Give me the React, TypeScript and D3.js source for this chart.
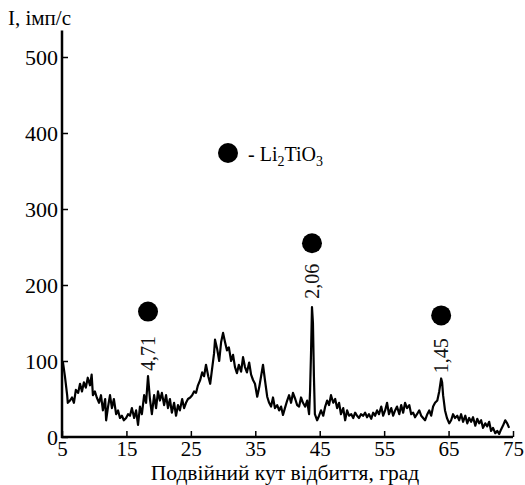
import { useEffect, useRef } from 'react';
import * as d3 from 'd3';

const W = 525, H = 485;
const X0 = 62, X1 = 513, Y0 = 437, Y500 = 57;

const twoTheta = [
  5.0, 5.15, 5.45, 5.8, 5.9, 6.25, 6.55, 6.85, 7.15, 7.5, 7.8, 8.1, 8.4, 8.7, 9.0, 9.35, 9.6, 9.8,
  10.1, 10.4, 10.75, 11.05, 11.35, 11.7, 11.85, 12.15, 12.45, 12.75, 13.05, 13.4, 13.7, 14.0, 14.3,
  14.6, 14.95, 15.25, 15.55, 15.85, 16.2, 16.5, 16.8, 17.1, 17.4, 17.75, 18.05, 18.35, 18.65, 18.95,
  19.3, 19.6, 19.9, 20.2, 20.5, 20.85, 21.15, 21.45, 21.75, 22.05, 22.4, 22.7, 23.0, 23.3, 23.65,
  23.95, 24.25, 24.55, 24.9, 25.2, 25.5, 25.8, 26.1, 26.45, 26.75, 27.05, 27.35, 27.7, 28.0, 28.3,
  28.6, 28.75, 29.1, 29.4, 29.7, 30.0, 30.3, 30.6, 30.9, 31.25, 31.55, 31.85, 32.15, 32.45, 32.8,
  33.1, 33.4, 33.7, 34.05, 34.35, 34.65, 34.95, 35.3, 35.6, 35.9, 36.2, 36.5, 36.85, 37.15, 37.45,
  37.75, 38.05, 38.4, 38.7, 39.0, 39.3, 39.6, 39.95, 40.25, 40.55, 40.85, 41.2, 41.5, 41.8, 42.1,
  42.4, 42.75, 43.05, 43.35, 43.5, 43.65, 43.8, 43.95, 44.1, 44.25, 44.6, 44.9, 45.2, 45.55, 45.85,
  46.15, 46.45, 46.75, 47.1, 47.4, 47.7, 48.0, 48.3, 48.65, 48.95, 49.25, 49.55, 49.9, 50.2, 50.5,
  50.8, 51.1, 51.4, 51.75, 52.05, 52.35, 52.65, 53.0, 53.3, 53.6, 53.9, 54.2, 54.55, 54.85, 55.15,
  55.45, 55.75, 56.1, 56.4, 56.7, 57.0, 57.35, 57.65, 57.95, 58.25, 58.55, 58.9, 59.2, 59.5, 59.8,
  60.1, 60.45, 60.75, 61.05, 61.35, 61.7, 62.0, 62.3, 62.6, 62.9, 63.25, 63.55, 63.85, 64.0, 64.15,
  64.45, 64.75, 65.1, 65.4, 65.7, 66.0, 66.35, 66.65, 66.95, 67.25, 67.6, 67.9, 68.2, 68.5, 68.8,
  69.15, 69.45, 69.75, 70.05, 70.35, 70.7, 71.0, 71.3, 71.6, 71.9, 72.25, 72.55, 72.85, 73.15,
  73.45, 73.8, 74.1, 74.4,
];

const intensity = [
  95, 98, 80, 55, 45, 48, 52, 45, 62, 58, 70, 60, 72, 65, 78, 68, 82, 55,
  60, 52, 45, 55, 35, 50, 22, 40, 55, 38, 50, 30, 35, 25, 28,
  22, 25, 30, 28, 38, 25, 35, 16, 40, 30, 55, 45, 80, 50, 30,
  55, 38, 60, 48, 58, 42, 55, 38, 50, 32, 45, 28, 42, 35, 50,
  38, 45, 50, 52, 55, 60, 58, 68, 75, 85, 80, 95, 80, 70, 90,
  110, 128, 115, 100, 125, 137, 125, 114, 118, 100, 108, 92, 84, 95, 86,
  105, 92, 85, 98, 82, 75, 70, 53, 65, 80, 95, 75, 53, 45, 40,
  52, 38, 42, 35, 40, 29, 38, 48, 55, 45, 58, 50, 42, 40, 52,
  45, 40, 48, 30, 60, 110, 171, 150, 80, 30, 22, 28, 35, 28, 40,
  48, 42, 55, 45, 50, 38, 45, 30, 38, 22, 35, 28, 30, 25, 32,
  28, 25, 30, 28, 32, 26, 30, 24, 32, 28, 35, 30, 40, 28, 35,
  45, 30, 38, 28, 35, 40, 30, 42, 32, 45, 38, 42, 30, 32, 26,
  30, 35, 28, 25, 22, 30, 35, 28, 40, 45, 48, 60, 77, 72, 55,
  35, 25, 18, 22, 30, 25, 28, 22, 30, 20, 28, 18, 25, 20, 26,
  15, 24, 18, 22, 12, 18, 14, 20, 8, 12, 5, 8, 4, 10,
  15, 22, 18, 12,
];

const xTicks = [5, 15, 25, 35, 45, 55, 65, 75];
const yTicks = [0, 100, 200, 300, 400, 500];

// peak markers: 2θ, marker intensity, d-spacing label
const peakTheta = [18.35, 43.8, 63.85];
const peakDot = [165, 255, 160];
const peakLabel = ['4,71', '2,06', '1,45'];
const peakLabelY = [110, 205, 107];

const FONT = '"Liberation Serif", "Times New Roman", serif';

export default function App() {
  const svgRef = useRef<SVGSVGElement>(null);

  useEffect(() => {
    const svg = d3.select(svgRef.current);
    svg.selectAll('*').remove();

    const x = d3.scaleLinear().domain([5, 75]).range([X0, X1]);
    const y = d3.scaleLinear().domain([0, 500]).range([Y0, Y500]);

    const pts = twoTheta.map((t, i) => [t, intensity[i]] as [number, number]);

    // data trace
    svg.append('path')
      .datum(pts)
      .attr('fill', 'none')
      .attr('stroke', '#000')
      .attr('stroke-width', 2.2)
      .attr('stroke-linejoin', 'round')
      .attr('d', d3.line<[number, number]>().x((d) => x(d[0])).y((d) => y(d[1])));

    // axes
    svg.append('line')
      .attr('x1', X0).attr('x2', X0)
      .attr('y1', y(535)).attr('y2', Y0 + 1)
      .attr('stroke', '#000').attr('stroke-width', 2.5);
    svg.append('line')
      .attr('x1', X0 - 1).attr('x2', X1)
      .attr('y1', Y0).attr('y2', Y0)
      .attr('stroke', '#000').attr('stroke-width', 2.5);

    const xg = svg.append('g')
      .attr('transform', `translate(0,${Y0})`)
      .call(d3.axisBottom(x).tickValues(xTicks).tickSizeInner(-6).tickSizeOuter(0).tickPadding(4));
    xg.select('.domain').remove();
    xg.selectAll('line').attr('stroke', '#000').attr('stroke-width', 1.5);
    xg.selectAll('text')
      .attr('font-family', FONT).attr('font-size', 21).attr('fill', '#000');

    const yg = svg.append('g')
      .attr('transform', `translate(${X0},0)`)
      .call(d3.axisLeft(y).tickValues(yTicks).tickSizeInner(-6).tickSizeOuter(0).tickPadding(4));
    yg.select('.domain').remove();
    yg.selectAll('line').attr('stroke', '#000').attr('stroke-width', 1.5);
    yg.selectAll('text')
      .attr('font-family', FONT).attr('font-size', 22).attr('fill', '#000');

    // peak markers
    peakTheta.forEach((t, i) => {
      svg.append('circle')
        .attr('cx', x(t)).attr('cy', y(peakDot[i])).attr('r', 10)
        .attr('fill', '#000');
      svg.append('text')
        .attr('transform', `translate(${x(t) + 7},${y(peakLabelY[i])}) rotate(-90)`)
        .attr('text-anchor', 'middle')
        .attr('font-family', FONT).attr('font-size', 20).attr('fill', '#111')
        .text(peakLabel[i]);
    });

    // legend
    svg.append('circle').attr('cx', 228).attr('cy', 153).attr('r', 10).attr('fill', '#000');
    const lt = svg.append('text')
      .attr('x', 248).attr('y', 161)
      .attr('font-family', FONT).attr('font-size', 20).attr('fill', '#000');
    lt.append('tspan').text('- Li');
    lt.append('tspan').attr('font-size', 14).attr('dy', 5).text('2');
    lt.append('tspan').attr('dy', -5).text('TiO');
    lt.append('tspan').attr('font-size', 14).attr('dy', 5).text('3');

    // axis titles
    svg.append('text')
      .attr('x', 8).attr('y', 25)
      .attr('font-family', FONT).attr('font-size', 21).attr('fill', '#000')
      .text('I, імп/с');
    svg.append('text')
      .attr('x', 285).attr('y', 480)
      .attr('text-anchor', 'middle')
      .attr('font-family', FONT).attr('font-size', 21.5).attr('fill', '#000')
      .text('Подвійний кут відбиття, град');
  }, []);

  return (
    <svg
      ref={svgRef}
      width={W}
      height={H}
      style={{ position: 'absolute', left: 0, top: 0, background: '#fff' }}
    />
  );
}
